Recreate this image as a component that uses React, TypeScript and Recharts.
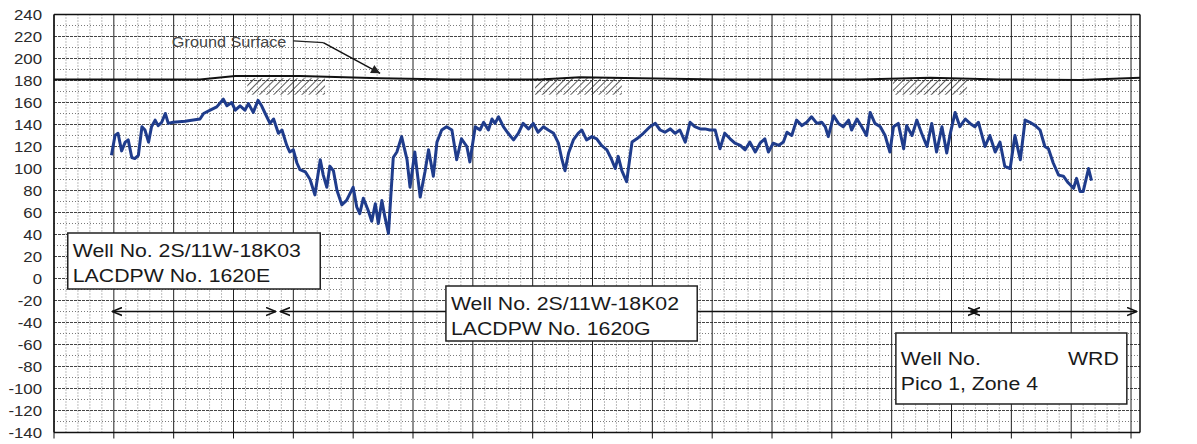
import React from 'react';
import {
  LineChart,
  Line,
  XAxis,
  YAxis,
  CartesianGrid,
  ReferenceLine,
  ReferenceArea,
  ReferenceDot,
} from 'recharts';

// water level record, x in years from the left edge of the plot
const wellYears = [
  0.96, 1.02, 1.07, 1.13, 1.19, 1.24, 1.3, 1.35, 1.41, 1.47, 1.52, 1.58, 1.63, 1.69, 1.74, 1.8, 1.86, 1.91, 1.99,
  2.19, 2.44, 2.5, 2.61, 2.72, 2.83, 2.89, 2.97, 3.03, 3.11, 3.19, 3.25, 3.33, 3.41, 3.47, 3.53, 3.61, 3.67, 3.75,
  3.81, 3.89, 3.94, 4.0, 4.06, 4.11, 4.2, 4.28, 4.36, 4.45, 4.5, 4.56, 4.61, 4.67, 4.73, 4.81, 4.89, 5.0, 5.06, 5.11,
  5.17, 5.25, 5.31, 5.37, 5.42, 5.48, 5.53, 5.59, 5.67, 5.73, 5.81, 5.9, 5.95, 6.03, 6.12, 6.2, 6.26, 6.34, 6.4, 6.48,
  6.56, 6.65, 6.73, 6.81, 6.9, 6.95, 7.04, 7.12, 7.18, 7.26, 7.32, 7.37, 7.43, 7.51, 7.59, 7.68, 7.76, 7.84, 7.93,
  8.01, 8.09, 8.18, 8.26, 8.35, 8.43, 8.49, 8.54, 8.6, 8.68, 8.76, 8.82, 8.9, 8.99, 9.07, 9.15, 9.24, 9.32, 9.38, 9.43,
  9.49, 9.57, 9.66, 9.74, 9.85, 9.96, 10.05, 10.13, 10.21, 10.3, 10.38, 10.46, 10.55, 10.63, 10.71, 10.8, 10.88,
  10.96, 11.05, 11.13, 11.21, 11.3, 11.38, 11.47, 11.55, 11.63, 11.72, 11.8, 11.88, 11.94, 12.02, 12.11, 12.19, 12.25,
  12.33, 12.41, 12.5, 12.58, 12.66, 12.75, 12.83, 12.89, 12.94, 13.03, 13.11, 13.19, 13.28, 13.33, 13.42, 13.5, 13.58,
  13.64, 13.72, 13.81, 13.89, 13.97, 14.03, 14.11, 14.2, 14.25, 14.34, 14.42, 14.5, 14.59, 14.67, 14.75, 14.84, 14.92,
  14.98, 15.06, 15.14, 15.23, 15.31, 15.39, 15.45, 15.5, 15.56, 15.64, 15.73, 15.81, 15.89, 15.98, 16.06, 16.15, 16.23,
  16.31, 16.4, 16.48, 16.56, 16.62, 16.7, 16.79, 16.87, 16.95, 17.04, 17.09, 17.15, 17.2, 17.29, 17.34,
];
const waterLevel = [
  112, 130, 132, 116, 124, 126, 110, 109, 112, 138, 135, 124, 138, 144, 139, 142, 150, 141, 142,
  143, 145, 150, 153, 156, 163, 157, 160, 153, 157, 153, 159, 151, 162, 157, 150, 141, 145, 132,
  135, 121, 115, 117, 105, 99, 97, 90, 76, 108, 94, 83, 102, 98, 80, 67, 71, 83, 65, 59,
  73, 62, 52, 68, 50, 71, 56, 41, 110, 115, 129, 108, 83, 115, 74, 97, 117, 93, 124, 135,
  138, 135, 108, 127, 120, 106, 138, 135, 142, 135, 145, 141, 147, 138, 132, 126, 132, 141, 136,
  141, 133, 138, 135, 132, 123, 108, 98, 114, 126, 132, 135, 126, 129, 127, 121, 117, 108, 100, 111,
  98, 88, 124, 127, 132, 138, 141, 135, 133, 136, 132, 135, 124, 142, 138, 136, 136,
  135, 135, 118, 132, 127, 123, 121, 117, 124, 115, 123, 127, 115, 123, 121, 124, 133,
  130, 144, 139, 142, 147, 141, 142, 138, 129, 148, 141, 138, 144, 135, 145, 138, 130,
  151, 141, 138, 130, 115, 138, 141, 118, 139, 130, 144, 132, 120, 141, 115, 138, 114,
  132, 151, 138, 145, 141, 138, 142, 132, 120, 130, 115, 124, 102, 100, 130, 108, 144,
  142, 139, 135, 120, 118, 105, 94, 93, 87, 82, 91, 79, 79, 100, 89,
];

const groundYears = [0, 2.44, 3.03, 4.11, 5.45, 6.62, 8.12, 8.79, 9.79, 11.13, 13.47, 14.64, 15.81, 17.15, 18.15];
const groundLevel = [181, 181, 184, 184, 182, 181, 181, 183, 182, 181, 181, 182.5, 181, 180.5, 182.5];

const yTicks = [-140, -120, -100, -80, -60, -40, -20, 0, 20, 40, 60, 80, 100, 120, 140, 160, 180, 200, 220, 240];
const yMinor = [-130, -110, -90, -70, -50, -30, -10, 10, 30, 50, 70, 90, 110, 130, 150, 170, 190, 210, 230];
const xMajor = [0, 1, 2, 3, 4, 5, 6, 7, 8, 9, 10, 11, 12, 13, 14, 15, 16, 17, 18];
const xMinor = Array.from({ length: 91 }, (_, i) => +(i * 0.2).toFixed(1)).filter((v) => v % 1 !== 0);

const box1Lines = ['Well No. 2S/11W-18K03', 'LACDPW No. 1620E'];
const box2Lines = ['Well No. 2S/11W-18K02', 'LACDPW No. 1620G'];
const box3Lines = ['Well No.', 'Pico 1, Zone 4'];
const box3Right = 'WRD';
const groundLabel = 'Ground Surface';

// hatched spans below the ground line, in years
const hatchSpans = [
  [3.23, 4.53],
  [8.04, 9.49],
  [14.02, 15.26],
];

const waterData = wellYears.map((t, i) => ({ t, level: waterLevel[i] }));
const groundData = groundYears.map((t, i) => ({ t, ground: groundLevel[i] }));

const FONT = '"Liberation Sans", Arial, Helvetica, sans-serif';

function LeftTick(props: any) {
  const { x, y, payload } = props;
  return (
    <g transform={`translate(${x},${y})`}>
      <text textAnchor="end" dy="0.36em" fontSize={14} fill="#2a2a2a" fontFamily={FONT} transform="scale(1.2,1)">
        {payload.value}
      </text>
    </g>
  );
}

function RightTick(props: any) {
  const { x, y, payload } = props;
  return (
    <g transform={`translate(${x},${y})`}>
      <text textAnchor="start" dy="0.36em" fontSize={14} fill="#2a2a2a" fontFamily={FONT} transform="scale(1.2,1)">
        {payload.value}
      </text>
    </g>
  );
}

const boxLabel = (lines: string[], first: number, right?: string) => (props: any) => {
  const vb = props.viewBox || props;
  return (
    <g>
      {lines.map((s, i) => (
        <g key={s} transform={`translate(${vb.x + 5},${vb.y + first + i * 25})`}>
          <text fontSize={19} fill="#1a1a1a" fontFamily={FONT} transform="scale(1.12,1)">
            {s}
          </text>
        </g>
      ))}
      {right && (
        <g transform={`translate(${vb.x + vb.width - 8},${vb.y + first})`}>
          <text fontSize={19} fill="#1a1a1a" fontFamily={FONT} textAnchor="end" transform="scale(1.12,1)">
            {right}
          </text>
        </g>
      )}
    </g>
  );
};

const groundText = (props: any) => {
  const vb = props.viewBox || props;
  return (
    <g transform={`translate(${vb.x},${vb.y})`}>
      <text fontSize={14.5} fill="#444" dy="0.36em" fontFamily={FONT} transform="scale(1.12,1)">
        {groundLabel}
      </text>
    </g>
  );
};

const arrowShape = (start: boolean, end: boolean, marker = 'openHead') => (p: any) => (
  <line
    x1={p.x1}
    y1={p.y1}
    x2={p.x2}
    y2={p.y2}
    stroke="#111"
    strokeWidth={1.5}
    markerStart={start ? `url(#${marker})` : undefined}
    markerEnd={end ? `url(#${marker})` : undefined}
  />
);

export default function App() {
  return (
    <div style={{ position: 'absolute', left: 0, top: 0, width: 1197, height: 444, background: '#fff' }}>
      <svg width={0} height={0} style={{ position: 'absolute' }}>
        <defs>
          <marker id="openHead" viewBox="0 0 10 10" refX={10} refY={5} markerWidth={10} markerHeight={10}
            markerUnits="userSpaceOnUse" orient="auto-start-reverse">
            <path d="M0,1 L10,5 L0,9" fill="none" stroke="#111" strokeWidth={1.6} />
          </marker>
          <marker id="solidHead" viewBox="0 0 10 10" refX={10} refY={5} markerWidth={11} markerHeight={9}
            markerUnits="userSpaceOnUse" orient="auto">
            <path d="M0,0 L10,5 L0,10 z" fill="#222" />
          </marker>
          <pattern id="hatch" patternUnits="userSpaceOnUse" width={5} height={5} patternTransform="rotate(45)">
            <line x1={0} y1={0} x2={0} y2={5} stroke="#333" strokeWidth={1.6} />
          </pattern>
        </defs>
      </svg>
      <LineChart width={1197} height={444} margin={{ top: 14.5, right: 0, bottom: 0, left: 0 }}>
        <CartesianGrid horizontal={false} verticalValues={xMinor} stroke="#7a7a7a" strokeDasharray="1 2" />
        <CartesianGrid vertical={false} horizontalValues={yMinor} stroke="#7a7a7a" strokeDasharray="1 2" />
        <CartesianGrid vertical={false} horizontalValues={yTicks} stroke="#444" strokeDasharray="3 1" />
        <CartesianGrid horizontal={false} verticalValues={xMajor} stroke="#222" />
        <XAxis
          type="number"
          dataKey="t"
          domain={[0, 18.15]}
          ticks={xMajor}
          allowDataOverflow
          tickFormatter={() => ''}
          tickSize={6}
          height={11.5}
          axisLine={{ stroke: '#111', strokeWidth: 1.5 }}
          tickLine={{ stroke: '#111' }}
        />
        <YAxis
          domain={[-140, 240]}
          ticks={yTicks}
          width={54}
          tickSize={0}
          tickLine={false}
          tickMargin={12}
          interval={0}
          axisLine={{ stroke: '#111', strokeWidth: 1.5 }}
          tick={<LeftTick />}
        />
        <YAxis
          yAxisId="r"
          orientation="right"
          domain={[-140, 240]}
          ticks={yTicks}
          width={57}
          tickSize={0}
          tickLine={false}
          tickMargin={17}
          interval={0}
          axisLine={{ stroke: '#111', strokeWidth: 1.5 }}
          tick={<RightTick />}
        />
        <ReferenceLine y={240} stroke="#111" strokeWidth={1.5} />
        {hatchSpans.map(([a, b]) => (
          <ReferenceArea key={a} x1={a} x2={b} y1={167} y2={182} fill="url(#hatch)" fillOpacity={1} stroke="none" />
        ))}
        <ReferenceArea x1={0.23} x2={4.45} y1={-9.5} y2={41.4} fill="#fff" fillOpacity={1} stroke="#222"
          strokeWidth={1.5} label={boxLabel(box1Lines, 24)} />
        <ReferenceArea x1={6.55} x2={10.75} y1={-56.8} y2={-6.8} fill="#fff" fillOpacity={1} stroke="#222"
          strokeWidth={1.5} label={boxLabel(box2Lines, 24)} />
        <ReferenceArea x1={14.07} x2={17.93} y1={-114} y2={-49.5} fill="#fff" fillOpacity={1} stroke="#222"
          strokeWidth={1.5} label={boxLabel(box3Lines, 32, box3Right)} />
        <ReferenceLine segment={[{ x: 0.97, y: -30 }, { x: 3.71, y: -30 }]} shape={arrowShape(true, true)} />
        <ReferenceLine segment={[{ x: 3.78, y: -30 }, { x: 6.55, y: -30 }]} shape={arrowShape(true, false)} />
        <ReferenceLine segment={[{ x: 10.75, y: -30 }, { x: 15.44, y: -30 }]} shape={arrowShape(false, true)} />
        <ReferenceLine segment={[{ x: 15.31, y: -30 }, { x: 18.1, y: -30 }]} shape={arrowShape(true, true)} />
        <ReferenceLine segment={[{ x: 4.0, y: 216 }, { x: 4.5, y: 214.4 }]} stroke="#222" strokeWidth={1.4} />
        <ReferenceLine segment={[{ x: 4.5, y: 214.4 }, { x: 5.45, y: 186.5 }]}
          shape={arrowShape(false, true, 'solidHead')} />
        <ReferenceDot x={1.97} y={215.3} r={0} fill="none" stroke="none" label={groundText} />
        <Line data={groundData} dataKey="ground" stroke="#111" strokeWidth={2} dot={false}
          isAnimationActive={false} />
        <Line data={waterData} dataKey="level" stroke="#1f3c8c" strokeWidth={3} dot={false}
          strokeLinejoin="round" isAnimationActive={false} />
      </LineChart>
    </div>
  );
}
